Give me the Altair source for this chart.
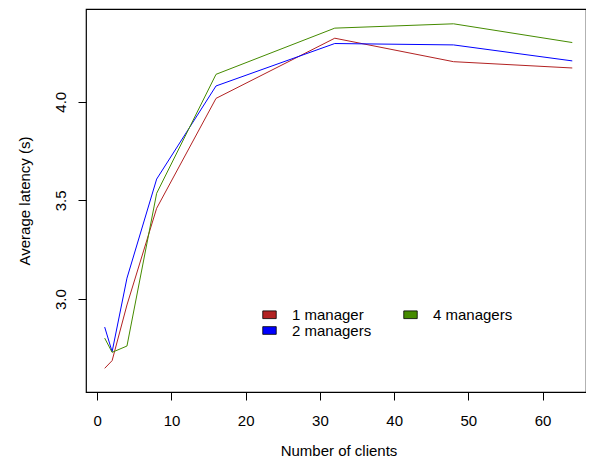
import altair as alt
import pandas as pd

clients = [1, 2, 4, 8, 16, 32, 48, 64]
lat_1 = [2.649, 2.688, 2.97, 3.46, 4.017, 4.322, 4.203, 4.171]
lat_2 = [2.858, 2.733, 3.106, 3.608, 4.08, 4.295, 4.288, 4.207]
lat_4 = [2.802, 2.730, 2.762, 3.536, 4.139, 4.373, 4.395, 4.300]
series_names = ["1 manager", "2 managers", "4 managers"]
series_colors = ["#B22222", "#0000FF", "#458B00"]

rows = []
for name, vals in zip(series_names, [lat_1, lat_2, lat_4]):
    for c, v in zip(clients, vals):
        rows.append({"clients": c, "latency": v, "series": name})
df = pd.DataFrame(rows)

FONT = "Liberation Sans"

x_enc = alt.X("clients:Q",
              scale=alt.Scale(domain=[-1.52, 65.85], nice=False, zero=False),
              axis=alt.Axis(values=[0, 10, 20, 30, 40, 50, 60], title="Number of clients",
                            grid=False, domain=False, tickColor="black", tickSize=8,
                            labelPadding=25, labelBaseline="alphabetic",
                            labelFont=FONT, labelFontSize=15, labelColor="black",
                            titleFont=FONT, titleFontSize=15, titleFontWeight="normal",
                            titleColor="black", titleBaseline="alphabetic",
                            titleY=63, titleX=252.5))
y_enc = alt.Y("latency:Q",
              scale=alt.Scale(domain=[2.529, 4.47], nice=False, zero=False),
              axis=alt.Axis(values=[3.0, 3.5, 4.0], format=".1f", title="Average latency (s)",
                            grid=False, domain=False, tickColor="black", tickSize=8,
                            labelAngle=-90, labelAlign="center", labelBaseline="alphabetic",
                            labelPadding=13,
                            labelFont=FONT, labelFontSize=15, labelColor="black",
                            titleFont=FONT, titleFontSize=15, titleFontWeight="normal",
                            titleColor="black", titleAngle=-90, titleAlign="center",
                            titleBaseline="alphabetic", titleX=-57, titleY=191.5))

lines = alt.Chart(df).mark_line(strokeWidth=1, clip=True).encode(
    x=x_enc, y=y_enc,
    stroke=alt.Stroke("series:N",
                      scale=alt.Scale(domain=series_names, range=series_colors),
                      legend=None),
)

legend_layer = alt.Chart(df).transform_filter("false").mark_point(
    filled=True, shape="square"
).encode(
    x=alt.X("clients:Q"), y=alt.Y("latency:Q"),
    fill=alt.Fill("series:N",
                  scale=alt.Scale(domain=series_names, range=series_colors),
                  legend=alt.Legend(title=None, orient="none", legendX=176, legendY=298,
                                    columns=2, columnPadding=30, rowPadding=0,
                                    symbolType="M-1,-0.57L1,-0.57L1,0.57L-1,0.57Z",
                                    symbolSize=182, symbolStrokeColor="black",
                                    symbolStrokeWidth=0.8, symbolOpacity=1,
                                    labelOffset=15, labelFont=FONT, labelFontSize=15,
                                    labelColor="black", padding=0,
                                    labelLimit=200)),
)

chart = alt.layer(lines, legend_layer).resolve_scale(fill="independent", stroke="independent").properties(
    width=500, height=383,
    padding={"left": 78, "top": 1, "right": 0, "bottom": 65},
    autosize=alt.AutoSizeParams(type="none"),
).configure_view(
    stroke="black", strokeWidth=1.2
)

chart.save("out.html", embed_options={"renderer": "svg", "actions": False})
